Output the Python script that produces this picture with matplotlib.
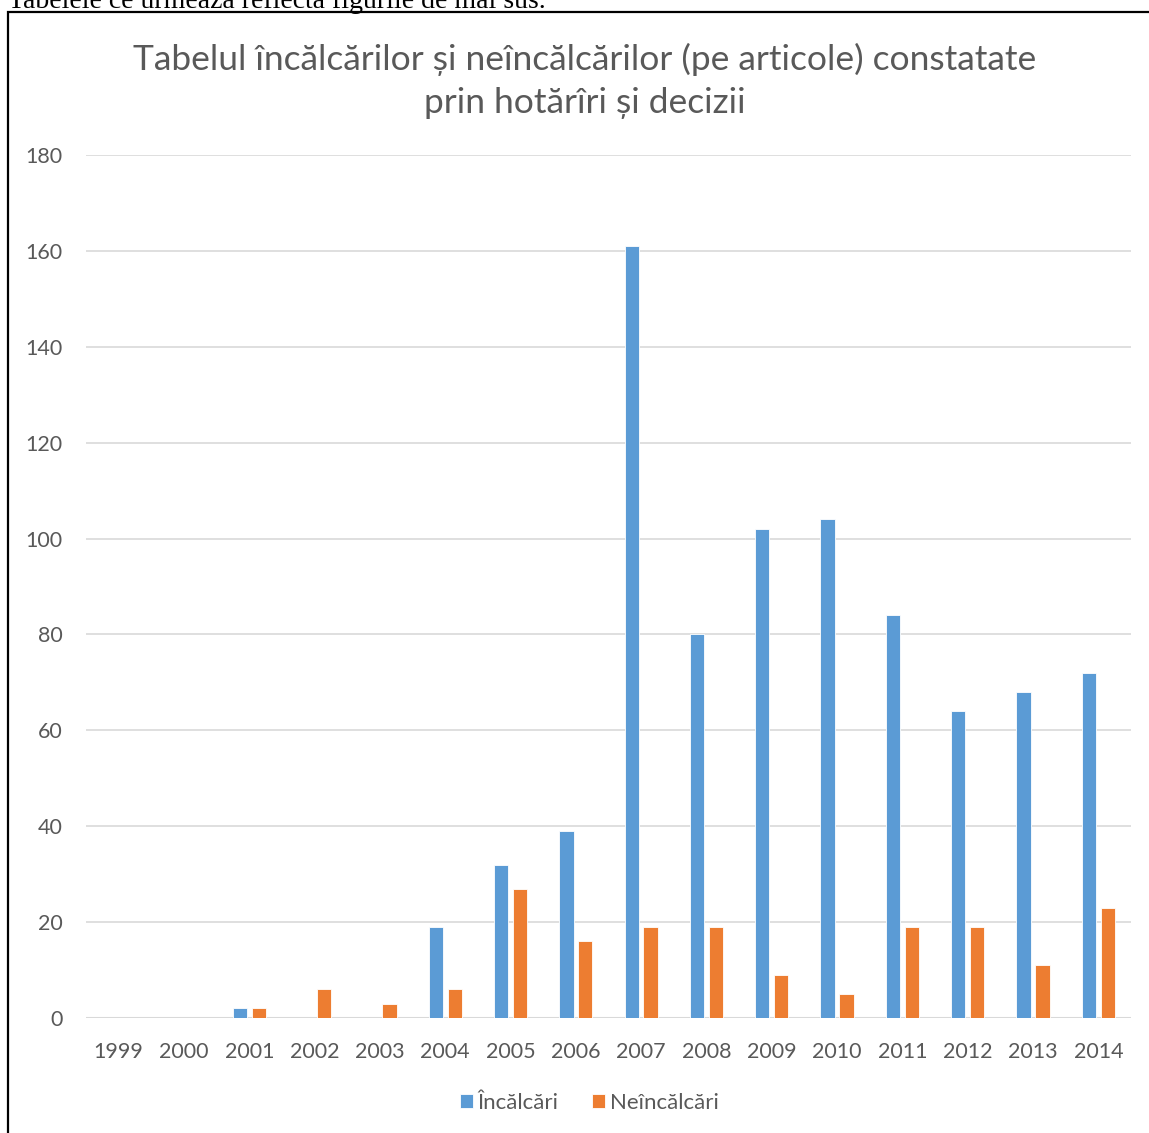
import matplotlib
matplotlib.use('Agg')
import matplotlib.pyplot as plt
from matplotlib.patches import Rectangle
import numpy as np

YEARS = ["1999", "2000", "2001", "2002", "2003", "2004", "2005", "2006",
         "2007", "2008", "2009", "2010", "2011", "2012", "2013", "2014"]
INCALCARI = [0, 0, 2, 0, 0, 19, 32, 39, 161, 80, 102, 104, 84, 64, 68, 72]
NEINCALCARI = [0, 0, 2, 6, 3, 6, 27, 16, 19, 19, 9, 5, 19, 19, 11, 23]

BLUE, ORANGE, GRID, TXT = "#5B9BD5", "#ED7D31", "#D9D9D9", "#595959"
plt.rcParams['font.family'] = ['Lato', 'DejaVu Sans']

W, H = 1149, 1133
fig = plt.figure(figsize=(W / 100, H / 100), dpi=100)
fig.patch.set_facecolor("white")

# page text cut off at the top + frame around the chart
fig.text(8 / W, 1 - 2 / H, "Tabelele ce urmează reflectă figurile de mai sus.",
         fontsize=20, family="Liberation Serif", color="black", va="center", ha="left")
fig.patches.append(Rectangle((8 / W, -0.05), 1.2, 1 - 12 / H + 0.05, transform=fig.transFigure,
                             fill=False, edgecolor="black", linewidth=1.6))

ax = fig.add_axes([86 / W, 1 - 1018 / H, (1131 - 86) / W, (1018 - 155) / H])
x = np.arange(len(YEARS))
w = 0.22
ax.bar(x - 0.145, INCALCARI, w, color=BLUE, edgecolor="white", linewidth=0.6, label="Încălcări", zorder=3)
ax.bar(x + 0.145, NEINCALCARI, w, color=ORANGE, edgecolor="white", linewidth=0.6, label="Neîncălcări", zorder=3)

ax.set_xlim(-0.5, len(YEARS) - 0.5)
ax.set_ylim(0, 180)
ax.set_yticks(range(0, 181, 20))
ax.set_xticks(x)
ax.set_xticklabels(YEARS)
ax.tick_params(colors=TXT, labelsize=15.5, length=0)
ax.tick_params(axis="x", pad=17)
ax.tick_params(axis="y", pad=17)
for sp in ax.spines.values():
    sp.set_visible(False)
ax.grid(axis="y", color=GRID, linewidth=1.2, zorder=0)
ax.axhline(0, color=GRID, linewidth=1.5, zorder=2)
ax.set_axisbelow(True)

fig.text(585 / W, 1 - 81 / H,
         "Tabelul încălcărilor și neîncălcărilor (pe articole) constatate\nprin hotărîri și decizii",
         ha="center", va="center", fontsize=25.5, color=TXT, linespacing=1.45)

fig.legend(loc="center", bbox_to_anchor=(589 / W, 1 - 1103 / H), ncol=2, frameon=False,
           fontsize=16, labelcolor=TXT, handlelength=0.6, handleheight=0.6,
           handletextpad=0.2, columnspacing=1.5)

plt.savefig("out.png", dpi=100, facecolor="white")
